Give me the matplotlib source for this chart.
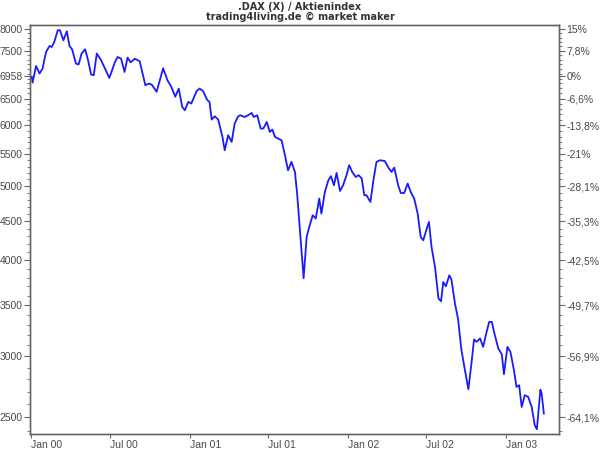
import matplotlib
matplotlib.use("Agg")
import matplotlib.pyplot as plt
import matplotlib.dates as mdates
from matplotlib.ticker import FixedLocator, FixedFormatter, NullFormatter
import pandas as pd

# DAX weekly closes (turning points)
dates = [
    "2000-01-03", "2000-01-05", "2000-01-13", "2000-01-21", "2000-01-28", "2000-02-05",
    "2000-02-13", "2000-02-18", "2000-02-24", "2000-03-03", "2000-03-08", "2000-03-16",
    "2000-03-24", "2000-03-30", "2000-04-05", "2000-04-14", "2000-04-20", "2000-04-27",
    "2000-05-05", "2000-05-11", "2000-05-19", "2000-05-25", "2000-06-01", "2000-06-11",
    "2000-06-30", "2000-07-13", "2000-07-19", "2000-07-27", "2000-08-04", "2000-08-11",
    "2000-08-18", "2000-08-28", "2000-09-08", "2000-09-21", "2000-09-29", "2000-10-06",
    "2000-10-17", "2000-11-01", "2000-11-11", "2000-11-20", "2000-11-29", "2000-12-07",
    "2000-12-15", "2000-12-21", "2000-12-29", "2001-01-05", "2001-01-17", "2001-01-24",
    "2001-02-01", "2001-02-11", "2001-02-16", "2001-02-21", "2001-02-28", "2001-03-08",
    "2001-03-18", "2001-03-23", "2001-03-31", "2001-04-08", "2001-04-15", "2001-04-23",
    "2001-04-28", "2001-05-08", "2001-05-16", "2001-05-24", "2001-05-29", "2001-06-06",
    "2001-06-14", "2001-06-20", "2001-06-28", "2001-07-05", "2001-07-11", "2001-07-17",
    "2001-07-24", "2001-08-01", "2001-08-09", "2001-08-16", "2001-08-24", "2001-09-01",
    "2001-09-06", "2001-09-12", "2001-09-21", "2001-09-28", "2001-10-04", "2001-10-12",
    "2001-10-19", "2001-10-27", "2001-11-01", "2001-11-09", "2001-11-17", "2001-11-23",
    "2001-11-30", "2001-12-06", "2001-12-14", "2001-12-21", "2001-12-29", "2002-01-04",
    "2002-01-11", "2002-01-19", "2002-01-26", "2002-02-02", "2002-02-08", "2002-02-13",
    "2002-02-22", "2002-03-01", "2002-03-08", "2002-03-16", "2002-03-27", "2002-04-06",
    "2002-04-12", "2002-04-18", "2002-04-27", "2002-05-03", "2002-05-11", "2002-05-19",
    "2002-05-26", "2002-06-03", "2002-06-11", "2002-06-18", "2002-06-24", "2002-07-02",
    "2002-07-07", "2002-07-13", "2002-07-21", "2002-07-29", "2002-08-04", "2002-08-09",
    "2002-08-15", "2002-08-23", "2002-08-28", "2002-09-05", "2002-09-12", "2002-09-20",
    "2002-09-28", "2002-10-06", "2002-10-13", "2002-10-19", "2002-10-25", "2002-11-02",
    "2002-11-09", "2002-11-17", "2002-11-23", "2002-11-29", "2002-12-06", "2002-12-14",
    "2002-12-22", "2002-12-27", "2003-01-04", "2003-01-11", "2003-01-19", "2003-01-25",
    "2003-01-31", "2003-02-06", "2003-02-13", "2003-02-21", "2003-03-01", "2003-03-08",
    "2003-03-13", "2003-03-21", "2003-03-24", "2003-03-29",
]
closes = [
    6938, 6818, 7166, 7005, 7111, 7473, 7609, 7586, 7701, 7976, 7976, 7740,
    7952, 7609, 7534, 7218, 7197, 7438, 7534, 7327, 6984, 6970, 7438, 7290,
    6914, 7253, 7362, 7327, 7038, 7349, 7246, 7323, 7268, 6764, 6798, 6774,
    6633, 7118, 6866, 6729, 6535, 6697, 6342, 6275, 6434, 6403, 6643, 6697,
    6649, 6467, 6434, 6103, 6163, 6103, 5788, 5566, 5823, 5707, 6030, 6163,
    6182, 6150, 6182, 6225, 6150, 6182, 5940, 5940, 6059, 5880, 5923, 5793,
    5765, 5736, 5484, 5242, 5375, 5216, 4889, 4423, 3793, 4293, 4423, 4581,
    4536, 4816, 4604, 4912, 5088, 5150, 5012, 5200, 4927, 5012, 5165, 5322,
    5216, 5138, 5165, 5114, 4864, 4864, 4767, 5088, 5375, 5402, 5390, 5269,
    5216, 5285, 5012, 4897, 4897, 5038, 4912, 4816, 4604, 4293, 4250, 4402,
    4490, 4166, 3923, 3569, 3540, 3750, 3702, 3826, 3777, 3516, 3360, 3057,
    2879, 2719, 2937, 3156, 3134, 3166, 3087, 3229, 3327, 3327, 3197, 3072,
    3020, 2844, 3087, 3041, 2879, 2738, 2752, 2578, 2671, 2657, 2578, 2441,
    2412, 2715, 2684, 2528,
]

# axis setup
left_ticks = [2500, 3000, 3500, 4000, 4500, 5000, 5500, 6000, 6500, 6958, 7500, 8000]
base_value = 6958
xtick_dates = ["2000-01-01", "2000-07-01", "2001-01-01", "2001-07-01",
               "2002-01-01", "2002-07-01", "2003-01-01"]
xtick_labels = ["Jan 00", "Jul 00", "Jan 01", "Jul 01", "Jan 02", "Jul 02", "Jan 03"]

df = pd.DataFrame({"date": pd.to_datetime(dates), "close": closes})

axis_col = "#666666"
text_col = "#4a4a4a"

fig = plt.figure(figsize=(6, 4.5), dpi=100)
ax = fig.add_axes([0.05, 0.036, 0.8817, 0.909])

ax.plot(df["date"], df["close"], color="#1a1aff", lw=1.3, solid_joinstyle="round")

ax.set_yscale("log")
ax.set_ylim(2379, 8109)
ax.set_xlim(pd.Timestamp("1999-12-30"), pd.Timestamp("2003-05-03"))

# left axis ticks
ax.yaxis.set_major_locator(FixedLocator(left_ticks))
ax.yaxis.set_major_formatter(FixedFormatter([str(v) for v in left_ticks]))
minor_vals = list(range(2400, 8100, 100))
ax.yaxis.set_minor_locator(FixedLocator(minor_vals))
ax.yaxis.set_minor_formatter(NullFormatter())

# x axis ticks, labels start at the tick
ax.set_xticks(pd.to_datetime(xtick_dates))
ax.set_xticklabels(xtick_labels, ha="left")
ax.xaxis.set_minor_locator(FixedLocator([]))

for sp in ax.spines.values():
    sp.set_color(axis_col)
    sp.set_linewidth(1.0)

ax.tick_params(axis="y", which="major", length=4, width=0.8, color=axis_col,
               labelsize=7.5, labelcolor=text_col, pad=1.5)
ax.tick_params(axis="y", which="minor", length=2, width=0.6, color=axis_col)
ax.tick_params(axis="x", which="major", length=3, width=0.8, color=axis_col,
               labelsize=7.5, labelcolor=text_col, pad=1.5)

# right axis: percent change relative to base value
ax2 = ax.twinx()
ax2.set_yscale("log")
ax2.set_ylim(ax.get_ylim())


def pct_label(v):
    p = round((v / base_value - 1) * 100, 1)
    s = ("%.1f" % p).replace(".", ",")
    if s.endswith(",0"):
        s = s[:-2]
    if s == "-0":
        s = "0"
    return s + "%"


ax2.yaxis.set_major_locator(FixedLocator(left_ticks))
ax2.yaxis.set_major_formatter(FixedFormatter([pct_label(v) for v in left_ticks]))
ax2.yaxis.set_minor_locator(FixedLocator(minor_vals))
ax2.yaxis.set_minor_formatter(NullFormatter())
ax2.tick_params(axis="y", which="major", length=4, width=0.8, color=axis_col,
                labelsize=7.5, labelcolor=text_col, pad=1.5)
ax2.tick_params(axis="y", which="minor", length=2, width=0.6, color=axis_col)
for sp in ax2.spines.values():
    sp.set_color(axis_col)
    sp.set_linewidth(1.0)

for lab in ax.get_yticklabels() + ax2.get_yticklabels() + ax.get_xticklabels():
    lab.set_family("Liberation Sans")

# title lines
fig.text(0.5, 1 - 10.5 / 450, ".DAX (X) / Aktienindex", ha="center", va="baseline",
         fontsize=7, fontweight="bold", color="#333333", family="DejaVu Sans")
fig.text(0.5, 1 - 19.5 / 450, "trading4living.de \u00a9 market maker", ha="center",
         va="baseline", fontsize=7, fontweight="bold", color="#333333", family="DejaVu Sans")

fig.savefig("out.png", dpi=100)
